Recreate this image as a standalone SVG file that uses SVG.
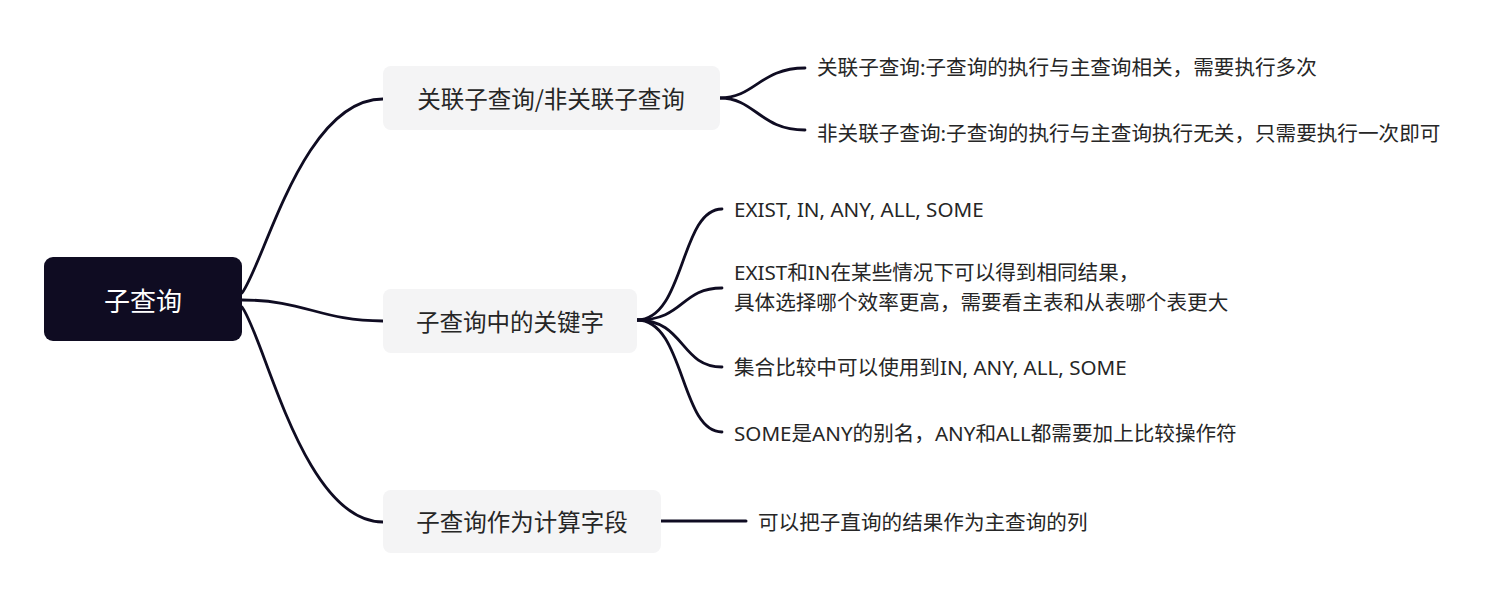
<svg xmlns="http://www.w3.org/2000/svg" width="1500" height="599" viewBox="0 0 1500 599">
<style>
.bg{fill:#ffffff}
.root{fill:#0f0c22}
.node{fill:#f4f4f5}
.rt{font-family:"Noto Sans CJK SC","Noto Sans",sans-serif;font-size:26px;fill:#ffffff;text-anchor:middle;dominant-baseline:central}
.nt{font-family:"Noto Sans CJK SC","Noto Sans",sans-serif;font-size:23.5px;fill:#262626;text-anchor:middle;dominant-baseline:central}
.lt{font-family:"Noto Sans","Noto Sans CJK SC",sans-serif;font-size:20.6px;fill:#262626;dominant-baseline:central}
.ln{fill:none;stroke:#0f0c22;stroke-width:2.8;stroke-linecap:round}
</style>
<rect class="bg" x="0" y="0" width="1500" height="599"/>
<g id="connectors">
<path class="ln" d="M242 293 C265 262, 303 99, 383 99"/>
<path class="ln" d="M242 300 C305 300, 320 321, 383 321"/>
<path class="ln" d="M242 307 C265 338, 303 522, 383 522"/>
<path class="ln" d="M720 98 C755 98, 760 68, 805 68"/>
<path class="ln" d="M720 98 C755 98, 760 130, 805 130"/>
<path class="ln" d="M637 320 C685 320, 680 209, 722 209"/>
<path class="ln" d="M637 320 C685 320, 680 288, 722 288"/>
<path class="ln" d="M637 320 C685 320, 680 367, 722 367"/>
<path class="ln" d="M637 320 C685 320, 680 432, 722 432"/>
<path class="ln" d="M661 521 L746 521" style="stroke-width:3"/>
</g>
<g id="root">
<rect class="root" x="44" y="257" width="198" height="84" rx="9"/>
<text class="rt" x="143" y="299">子查询</text>
</g>
<g id="node-correlated">
<rect class="node" x="383" y="66" width="337" height="64" rx="8"/>
<text class="nt" x="551" y="98">关联子查询/非关联子查询</text>
</g>
<g id="node-keywords">
<rect class="node" x="383" y="289" width="254" height="64" rx="8"/>
<text class="nt" x="510" y="321">子查询中的关键字</text>
</g>
<g id="node-field">
<rect class="node" x="383" y="490" width="278" height="63" rx="8"/>
<text class="nt" x="522" y="521">子查询作为计算字段</text>
</g>
<g id="leaf-1">
<text class="lt" x="817" y="67">关联子查询:子查询的执行与主查询相关，需要执行多次</text>
</g>
<g id="leaf-2">
<text class="lt" x="817" y="133">非关联子查询:子查询的执行与主查询执行无关，只需要执行一次即可</text>
</g>
<g id="leaf-3">
<text class="lt" x="734" y="209">EXIST, IN, ANY, ALL, SOME</text>
</g>
<g id="leaf-4">
<text class="lt" x="734" y="272">EXIST和IN在某些情况下可以得到相同结果，</text>
<text class="lt" x="734" y="302">具体选择哪个效率更高，需要看主表和从表哪个表更大</text>
</g>
<g id="leaf-5">
<text class="lt" x="734" y="367">集合比较中可以使用到IN, ANY, ALL, SOME</text>
</g>
<g id="leaf-6">
<text class="lt" x="734" y="433">SOME是ANY的别名，ANY和ALL都需要加上比较操作符</text>
</g>
<g id="leaf-7">
<text class="lt" x="758" y="522">可以把子直询的结果作为主查询的列</text>
</g>
</svg>
